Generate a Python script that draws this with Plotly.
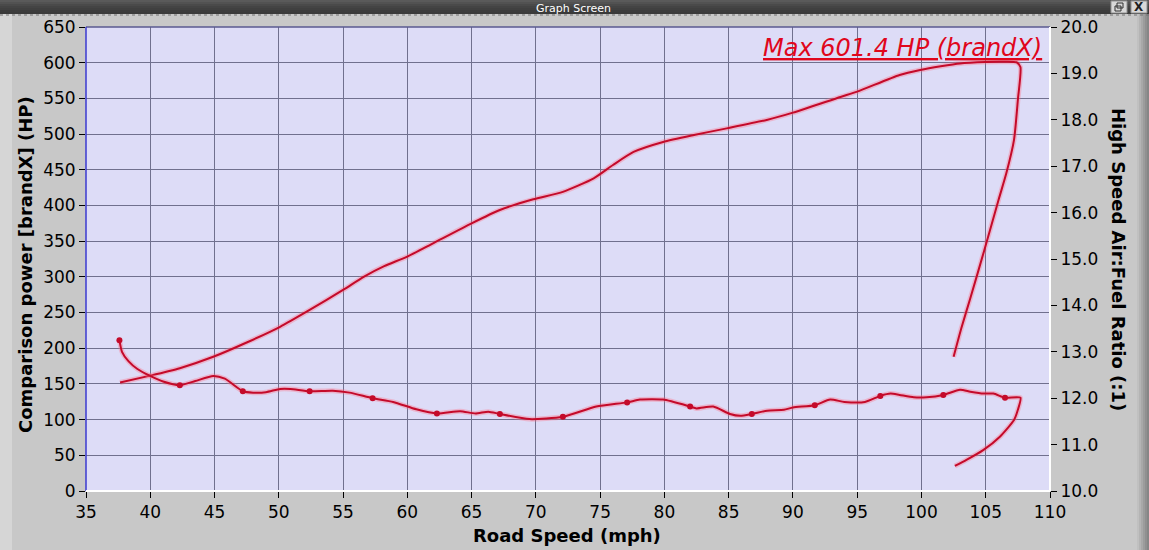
import plotly.graph_objects as go

# ---------------- data ----------------
power_speed = [37.65, 40.0, 42.3, 44.9, 47.5, 50.1, 52.4, 55.0, 56.6, 58.2, 59.95, 62.0, 65.0, 67.2,
               69.8, 72.1, 74.5, 76.0, 77.6, 79.9, 82.3, 84.85, 87.96, 90.0, 93.7, 95.0, 98.3, 99.9,
               101.5, 103.0, 105.0, 106.2, 107.4, 107.7, 107.5, 107.2, 106.6, 106.0,
               104.9, 103.8, 103.1, 102.5]
power_hp = [152, 161.6, 172, 188, 208, 230, 253.6, 281.6, 300, 315, 328, 347, 375, 393.7,
            408.6, 419, 438, 456.7, 475, 489, 498.7, 508, 519.8, 530, 552, 559.4, 582.8, 589.8,
            595, 599, 601, 601.4, 600.6, 594, 548, 492, 445, 408,
            338, 270, 228, 188]

afr_speed = [37.6, 37.8, 38.3, 39.0, 40.0, 41.0, 42.3, 43.5, 44.9, 45.8, 47.2, 48.0, 49.0, 50.1, 50.9,
             52.4, 54.2, 55.5, 57.3, 58.9, 60.7, 62.3, 64.1, 65.3, 66.3, 67.2, 69.5, 72.1, 74.7,
             77.1, 78.1, 79.9, 82.0, 82.5, 83.8, 85.1, 85.9, 86.8, 88.0, 89.3, 90.0, 91.7, 92.9,
             94.0, 95.6, 96.8, 97.6, 98.3, 99.4, 100.4, 101.7, 103.0, 103.8, 104.8, 105.6, 106.5,
             107.7, 107.5, 107.2, 106.1, 104.8, 103.5, 102.6]
afr_ratio = [13.25, 13.0, 12.8, 12.63, 12.48, 12.36, 12.28, 12.37, 12.48, 12.42, 12.15, 12.12, 12.13, 12.2, 12.2,
             12.15, 12.16, 12.12, 12.0, 11.92, 11.76, 11.67, 11.72, 11.67, 11.71, 11.66, 11.55, 11.6, 11.82,
             11.91, 11.97, 11.97, 11.82, 11.78, 11.82, 11.66, 11.62, 11.66, 11.73, 11.75, 11.8, 11.85, 11.97,
             11.92, 11.92, 12.05, 12.1, 12.07, 12.02, 12.02, 12.07, 12.18, 12.14, 12.1, 12.1, 12.01,
             12.01, 11.75, 11.53, 11.17, 10.88, 10.67, 10.54]
afr_marker_idx = [0, 6, 10, 15, 18, 21, 25, 27, 29, 32, 37, 41, 45, 50, 55]

x_ticks = list(range(35, 111, 5))
hp_ticks = list(range(0, 651, 50))
afr_ticks = [10.0 + i for i in range(11)]

annotation_text = "Max 601.4 HP (brandX)"
x_title = "Road Speed (mph)"
y_title = "Comparison power [brandX] (HP)"
y2_title = "High Speed Air:Fuel Ratio (:1)"
window_title = "Graph Screen"

# ---------------- figure ----------------
W, H = 1149, 550
L, R, T, B = 86, 1050, 27, 491
PW, PH = R - L, B - T


def px(xp):
    return (xp - L) / PW


def py(yp):
    return (B - yp) / PH


LINE = "#c40a2a"
HALO = "rgba(255,110,130,0.35)"
FONT = "DejaVu Sans"

fig = go.Figure()
# halos
fig.add_trace(go.Scatter(x=power_speed, y=power_hp, mode="lines",
                         line=dict(color=HALO, width=5, shape="spline", smoothing=0.6),
                         hoverinfo="skip", showlegend=False))
fig.add_trace(go.Scatter(x=afr_speed, y=afr_ratio, mode="lines", yaxis="y2",
                         line=dict(color=HALO, width=5, shape="spline", smoothing=0.6),
                         hoverinfo="skip", showlegend=False))
# main lines
fig.add_trace(go.Scatter(x=power_speed, y=power_hp, mode="lines",
                         line=dict(color=LINE, width=2, shape="spline", smoothing=0.6),
                         showlegend=False))
fig.add_trace(go.Scatter(x=afr_speed, y=afr_ratio, mode="lines", yaxis="y2",
                         line=dict(color=LINE, width=2, shape="spline", smoothing=0.6),
                         showlegend=False))
fig.add_trace(go.Scatter(x=[afr_speed[i] for i in afr_marker_idx],
                         y=[afr_ratio[i] for i in afr_marker_idx],
                         mode="markers", yaxis="y2",
                         marker=dict(color=LINE, size=6), showlegend=False))

tickfont = dict(family=FONT, size=17, color="black")
grid = "#70708e"

fig.update_layout(
    width=W, height=H,
    margin=dict(l=L, r=W - R, t=T, b=H - B, pad=0),
    paper_bgcolor="#c8c8c8",
    plot_bgcolor="#dddcf7",
    xaxis=dict(range=[35, 110], tickvals=x_ticks, showgrid=True, gridcolor=grid, gridwidth=1,
               ticks="outside", ticklen=6, tickcolor="black", tickfont=tickfont,
               zeroline=False, showline=False),
    yaxis=dict(range=[0, 650], tickvals=hp_ticks, showgrid=True, gridcolor=grid, gridwidth=1,
               ticks="outside", ticklen=6, tickcolor="black", tickfont=tickfont,
               zeroline=False, showline=False),
    yaxis2=dict(range=[10, 20], tickvals=afr_ticks, tickformat=".1f", overlaying="y", side="right",
                showgrid=False, ticks="outside", ticklen=6, tickcolor="black", tickfont=tickfont,
                zeroline=False, showline=False),
)

shapes = []
# left lighter strip and right dark strip
shapes.append(dict(type="rect", xref="paper", yref="paper", x0=px(0), x1=px(12), y0=py(H), y1=py(14),
                   fillcolor="#d6d6d6", line=dict(width=0), layer="below"))
for i, c in enumerate(["#c0c0c0", "#b4b4b4", "#a8a8a8", "#9c9c9c", "#909090", "#868686"]):
    shapes.append(dict(type="rect", xref="paper", yref="paper", x0=px(1137 + 2 * i), x1=px(1139 + 2 * i),
                       y0=py(H), y1=py(14), fillcolor=c, line=dict(width=0), layer="below"))
# title bar gradient
bar_cols = ["#5a5a5a", "#525252", "#4a4a4a", "#444444", "#404040", "#3c3c3c", "#3a3a3a"]
for i, c in enumerate(bar_cols):
    shapes.append(dict(type="rect", xref="paper", yref="paper", x0=px(0), x1=px(W),
                       y0=py(2 * i + 2), y1=py(2 * i), fillcolor=c, line=dict(width=0), layer="below"))
shapes.append(dict(type="line", xref="paper", yref="paper", x0=px(0), x1=px(W), y0=py(15), y1=py(15),
                   line=dict(color="#707070", width=1, dash="dot")))
# window buttons
for x0 in (1111, 1131):
    shapes.append(dict(type="rect", xref="paper", yref="paper", x0=px(x0), x1=px(x0 + 16),
                       y0=py(13), y1=py(1), fillcolor="#d8d8d8", line=dict(color="#909090", width=1)))
shapes.append(dict(type="rect", xref="paper", yref="paper", x0=px(1115), x1=px(1121),
                   y0=py(11), y1=py(6), line=dict(color="#303030", width=1)))
shapes.append(dict(type="rect", xref="paper", yref="paper", x0=px(1117), x1=px(1123),
                   y0=py(8), y1=py(3), line=dict(color="#303030", width=1)))
# plot frame: top/left dark, bottom/right white
shapes.append(dict(type="line", xref="paper", yref="paper", x0=0, x1=1, y0=1, y1=1,
                   line=dict(color="#5a5a90", width=1.5)))
shapes.append(dict(type="line", xref="paper", yref="paper", x0=0, x1=0, y0=0, y1=1,
                   line=dict(color="#3a3ad0", width=1.5)))
shapes.append(dict(type="line", xref="paper", yref="paper", x0=0, x1=1, y0=0, y1=0,
                   line=dict(color="white", width=2)))
shapes.append(dict(type="line", xref="paper", yref="paper", x0=1, x1=1, y0=0, y1=1,
                   line=dict(color="white", width=2)))
fig.update_layout(shapes=shapes)

annotations = [
    dict(text="<i><u>" + annotation_text + "</u></i>", xref="paper", yref="paper",
         x=px(1044), y=py(48), xanchor="right", yanchor="middle", showarrow=False,
         font=dict(family=FONT, size=24, color="#e0061c")),
    dict(text="<b>" + x_title + "</b>", xref="paper", yref="paper", x=px(567), y=py(535),
         xanchor="center", yanchor="middle", showarrow=False,
         font=dict(family=FONT, size=18, color="black")),
    dict(text="<b>" + y_title + "</b>", xref="paper", yref="paper", x=px(25), y=py(265),
         xanchor="center", yanchor="middle", showarrow=False, textangle=-90,
         font=dict(family=FONT, size=18, color="black")),
    dict(text="<b>" + y2_title + "</b>", xref="paper", yref="paper", x=px(1119), y=py(259),
         xanchor="center", yanchor="middle", showarrow=False, textangle=90,
         font=dict(family=FONT, size=18, color="black")),
    dict(text=window_title, xref="paper", yref="paper", x=px(573), y=py(8),
         xanchor="center", yanchor="middle", showarrow=False,
         font=dict(family=FONT, size=11, color="white")),
    dict(text="<b>X</b>", xref="paper", yref="paper", x=px(1139), y=py(7),
         xanchor="center", yanchor="middle", showarrow=False,
         font=dict(family=FONT, size=12, color="#202020")),
]
fig.update_layout(annotations=annotations)

fig.write_html("out.html")
